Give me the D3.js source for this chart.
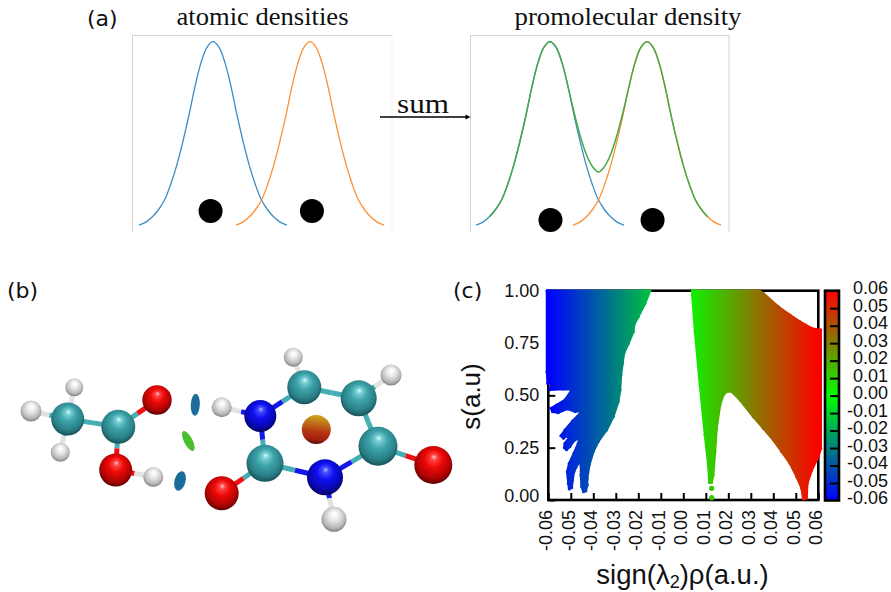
<!DOCTYPE html>
<html>
<head>
<meta charset="utf-8">
<script src="https://cdn.jsdelivr.net/npm/d3@7"></script>
<style>
  body { margin: 0; background: #fff; }
  svg { display: block; }
</style>
</head>
<body>
<div id="chart"></div>
<script>
// panel (a): one atom's density against distance from the nucleus
const radius = [-3.05, -2.75, -2.5, -2.25, -2, -1.75, -1.5, -1.25, -1, -0.75, -0.5, -0.25, 0,
  0.25, 0.5, 0.75, 1, 1.25, 1.5, 1.75, 2, 2.25, 2.5, 2.75, 3.05];
const density = [0.016, 0.033, 0.06, 0.098, 0.15, 0.232, 0.335, 0.46, 0.6, 0.755, 0.885, 0.97, 1,
  0.97, 0.885, 0.755, 0.6, 0.46, 0.335, 0.232, 0.15, 0.098, 0.06, 0.033, 0.016];
const atomSeparation = 4;
const nucleiLeft = [[-0.10, 0.091], [4.08, 0.091]];
const nucleiRight = [[0.02, 0.043], [4.23, 0.043]];

// panel (b): projected atom positions, element and size
const atomKind = ["H", "H", "C", "H", "C", "O", "O", "H", "H", "C", "C", "H", "N", "H", "C", "O", "C", "N", "O", "H"];
const atomX = [6.43, 2.10, 5.77, 5.03, 10.83, 14.70, 10.57, 14.33, 28.33, 29.43, 34.87, 38.10, 25.03, 21.17, 36.80, 42.33, 25.50, 31.50, 21.17, 32.40];
const atomY = [4.73, 7.10, 7.90, 11.23, 8.67, 6.00, 13.00, 13.70, 1.73, 4.73, 5.83, 3.50, 7.60, 6.73, 10.63, 12.50, 12.33, 13.73, 15.33, 17.93];
const atomSize = [0.9, 1.05, 1.65, 0.95, 1.7, 1.47, 1.65, 1.0, 0.95, 1.7, 1.8, 1.05, 1.6, 1.0, 1.95, 1.9, 1.85, 1.8, 1.7, 1.25];
const bonds = [[0, 2], [1, 2], [3, 2], [2, 4], [4, 5], [4, 6], [6, 7], [8, 9], [9, 10], [10, 11], [9, 12], [12, 13],
  [10, 14], [14, 15], [14, 17], [12, 16], [16, 17], [16, 18], [17, 19]];
const surfaces = [
  { fill: "#1b6c98", x: 18.53, y: 6.47, rx: 0.45, ry: 1.1, rot: 3 },
  { fill: "#48bf2c", x: 17.83, y: 10.1, rx: 0.42, ry: 1.1, rot: -28 },
  { fill: "#1b6c98", x: 17.0, y: 14.1, rx: 0.55, ry: 1.0, rot: 15 },
  { fill: "url(#blob)", x: 30.63, y: 8.95, rx: 1.45, ry: 1.45, rot: 0 }
];

// panel (c): outlines of the two point clouds, [sign(l2)rho, s]
const cloudNegative = [[-0.0606, 1], [-0.0148, 1], [-0.0170, 0.939], [-0.0200, 0.876], [-0.0219, 0.836], [-0.0222, 0.804],
  [-0.0244, 0.748], [-0.0264, 0.701], [-0.0270, 0.653], [-0.0277, 0.597], [-0.0281, 0.525], [-0.0289, 0.470],
  [-0.0311, 0.398], [-0.0341, 0.334], [-0.0378, 0.279], [-0.0400, 0.231], [-0.0418, 0.167], [-0.0427, 0.104],
  [-0.0427, 0.072], [-0.0433, 0.043], [-0.0444, 0.040], [-0.0452, 0.064], [-0.0455, 0.119], [-0.0455, 0.167],
  [-0.0447, 0.215], [-0.0467, 0.175], [-0.0486, 0.135], [-0.0492, 0.096], [-0.0496, 0.059], [-0.0507, 0.053],
  [-0.0511, 0.080], [-0.0516, 0.135], [-0.0507, 0.175], [-0.0486, 0.223], [-0.0467, 0.271], [-0.0462, 0.299],
  [-0.0486, 0.283], [-0.0504, 0.255], [-0.0519, 0.240], [-0.0529, 0.250], [-0.0526, 0.271], [-0.0507, 0.298],
  [-0.0519, 0.306], [-0.0533, 0.295], [-0.0544, 0.307], [-0.0526, 0.334], [-0.0492, 0.377], [-0.0449, 0.425],
  [-0.0481, 0.422], [-0.0516, 0.435], [-0.0556, 0.417], [-0.0581, 0.422], [-0.0588, 0.438], [-0.0563, 0.454],
  [-0.0526, 0.478], [-0.0493, 0.529], [-0.0533, 0.530], [-0.0593, 0.527], [-0.0585, 0.557], [-0.0603, 0.557], [-0.0606, 0.613]];
const cloudPositive = [[0.0040, 1], [0.0338, 1], [0.0356, 0.987], [0.0422, 0.924], [0.0474, 0.884], [0.0519, 0.852],
  [0.0571, 0.820], [0.0608, 0.812], [0.0611, 0.812], [0.0611, 0.247], [0.0600, 0.207], [0.0571, 0.143], [0.0551, 0.080],
  [0.0548, 0.008], [0.0533, 0.005], [0.0526, 0.056], [0.0504, 0.111], [0.0474, 0.175], [0.0437, 0.231], [0.0400, 0.287],
  [0.0356, 0.342], [0.0311, 0.398], [0.0252, 0.478], [0.0215, 0.518], [0.0193, 0.518], [0.0178, 0.502], [0.0163, 0.454],
  [0.0148, 0.342], [0.0141, 0.231], [0.0133, 0.119], [0.0126, 0.084], [0.0116, 0.084], [0.0111, 0.167], [0.0096, 0.311],
  [0.0074, 0.549], [0.0052, 0.804], [0.0040, 0.979]];
const strayPoints = [[0.0126, 0.056], [0.0126, 0.011]];
const xTicks = [-0.06, -0.05, -0.04, -0.03, -0.02, -0.01, 0, 0.01, 0.02, 0.03, 0.04, 0.05, 0.06];
const yTicks = [0, 0.25, 0.5, 0.75, 1];

const sansLabel = "'DejaVu Sans'";
const gnuplotFont = "'Liberation Sans'";
const serifFont = "'Liberation Serif'";
// gnuplot prints a plain hyphen, d3 a real minus
const tickLabel = d => d3.format(".2f")(d).replace("\u2212", "-");

const svg = d3.select("#chart").append("svg").attr("width", 891).attr("height", 592);
const defs = svg.append("defs");

function addText(x, y, str, font, size, length) {
  const t = svg.append("text").attr("x", x).attr("y", y)
    .attr("font-family", font).attr("font-size", size).attr("fill", "#111").text(str);
  if (length) t.attr("textLength", length).attr("lengthAdjust", "spacingAndGlyphs");
  return t;
}

// ---------- panel (a) ----------
addText(87, 26, "(a)", sansLabel, 22);
addText(176.5, 24.5, "atomic densities", serifFont, 25, 172);
addText(514.5, 24.5, "promolecular density", serifFont, 25, 227);
addText(397, 112.5, "sum", serifFont, 28, 52);

const yDensity = d3.scaleLinear().domain([0, 1]).range([228, 41.7]);
const line = d3.line().curve(d3.curveCatmullRom);

function box(left, right, edge) {
  svg.append("path").attr("fill", "none").attr("stroke", "#d2d2d2").attr("stroke-width", 1)
    .attr("d", `M${left + 0.5},232.5V35.5H${right}`);
  svg.append("line").attr("x1", right).attr("x2", right).attr("y1", 35).attr("y2", 232)
    .attr("stroke", edge).attr("stroke-width", 1);
}
box(132, 392, "#f1f1f1");
box(470, 729, "#d2d2d2");

function drawAtoms(x, nuclei) {
  line.x(d => x(d[0])).y(d => yDensity(d[1]));
  const first = radius.map((r, i) => [r, density[i]]);
  const second = radius.map((r, i) => [r + atomSeparation, density[i]]);
  svg.append("path").attr("d", line(first)).attr("fill", "none").attr("stroke", "#3c8bc2").attr("stroke-width", 1.3);
  svg.append("path").attr("d", line(second)).attr("fill", "none").attr("stroke", "#fb9033").attr("stroke-width", 1.3);
  svg.selectAll(null).data(nuclei).enter().append("circle")
    .attr("cx", d => x(d[0])).attr("cy", d => yDensity(d[1])).attr("r", 12).attr("fill", "#000");
}

const xLeftPanel = d3.scaleLinear().domain([-3, 7]).range([140.25, 382.75]);
const xRightPanel = d3.scaleLinear().domain([-3, 7]).range([477.25, 719.75]);
drawAtoms(xLeftPanel, nucleiLeft);
drawAtoms(xRightPanel, nucleiRight);

// the promolecular curve is the two atoms added up on the shared grid
const promolecular = [];
const shift = 16;
for (let i = 2; i <= 38; i++) {
  const a = i <= 24 ? density[i] : 0;
  const b = i >= shift ? density[i - shift] : 0;
  promolecular.push([-3 + i * 0.25, a + b]);
}
line.x(d => xRightPanel(d[0])).y(d => yDensity(d[1]));
svg.append("path").attr("d", line(promolecular)).attr("fill", "none").attr("stroke", "#47a947").attr("stroke-width", 1.5);

// sum arrow
svg.append("line").attr("x1", 380).attr("x2", 467).attr("y1", 117).attr("y2", 117)
  .attr("stroke", "#000").attr("stroke-width", 1.4);
svg.append("path").attr("d", "M470.5,117l-5,-2.6v5.2z").attr("fill", "#000");

// ---------- panel (b) ----------
addText(7, 298, "(b)", sansLabel, 22);

const molX = d3.scaleLinear().domain([0, 46]).range([10, 470]);
const molY = d3.scaleLinear().domain([0, 20]).range([340, 540]);
const molSize = d3.scaleLinear().domain([0, 1]).range([0, 10]);

const elements = {
  H: { bond: "#e2e2e2", stops: ["#ffffff", "#fafafa", "#e4e4e4", "#b8b8b8", "#6a6a6a"] },
  C: { bond: "#45adb4", stops: ["#d6fbfb", "#74cdd2", "#3da3aa", "#2a7f86", "#123f46"] },
  O: { bond: "#f01010", stops: ["#ffc4c4", "#ff4040", "#ee0808", "#b00404", "#420000"] },
  N: { bond: "#1418ec", stops: ["#b0b6ff", "#4448ff", "#0e10f0", "#0808b0", "#020244"] }
};
Object.keys(elements).forEach(k => {
  const g = defs.append("radialGradient").attr("id", "atom" + k)
    .attr("cx", 0.5).attr("cy", 0.44).attr("r", 0.62).attr("fx", 0.52).attr("fy", 0.28);
  [0, 0.14, 0.38, 0.72, 1].forEach((o, i) => {
    g.append("stop").attr("offset", o).attr("stop-color", elements[k].stops[i]);
  });
});
const blob = defs.append("linearGradient").attr("id", "blob")
  .attr("x1", 0.55).attr("x2", 0.45).attr("y1", 0).attr("y2", 1);
[[0, "#cda81e"], [0.28, "#c0721a"], [0.58, "#b63410"], [0.85, "#a01e0c"], [1, "#4a0e06"]].forEach(s => {
  blob.append("stop").attr("offset", s[0]).attr("stop-color", s[1]);
});

svg.append("g").selectAll("ellipse").data(surfaces).enter().append("ellipse")
  .attr("rx", d => molSize(d.rx)).attr("ry", d => molSize(d.ry))
  .attr("transform", d => `translate(${molX(d.x)},${molY(d.y)})rotate(${d.rot})`)
  .attr("fill", d => d.fill);

// each bond is two half sticks in the colours of its atoms
const gBonds = svg.append("g");
bonds.forEach(b => {
  const [i, j] = b;
  const mx = (atomX[i] + atomX[j]) / 2, my = (atomY[i] + atomY[j]) / 2;
  [[i, atomX[i], atomY[i]], [j, atomX[j], atomY[j]]].forEach(e => {
    gBonds.append("line")
      .attr("x1", molX(e[1])).attr("y1", molY(e[2]))
      .attr("x2", molX(mx)).attr("y2", molY(my))
      .attr("stroke", elements[atomKind[e[0]]].bond).attr("stroke-width", 5);
  });
});

svg.append("g").selectAll("circle").data(atomKind).enter().append("circle")
  .attr("cx", (d, i) => molX(atomX[i])).attr("cy", (d, i) => molY(atomY[i]))
  .attr("r", (d, i) => molSize(atomSize[i]))
  .attr("fill", d => `url(#atom${d})`);

// ---------- panel (c) ----------
addText(453, 297.5, "(c)", sansLabel, 22);

const x = d3.scaleLinear().domain([-0.06, 0.06]).range([548.3, 818.3]);
const y = d3.scaleLinear().domain([0, 1]).range([500, 290.7]);
const color = d3.scaleLinear().domain([-0.06, 0, 0.06]).range(["#0000ff", "#00ff00", "#ff0000"]);
const barY = d3.scaleLinear().domain([-0.06, 0.06]).range([500.5, 290.7]);

const axisX = svg.append("g").attr("transform", `translate(0,${y(0)})`)
  .call(d3.axisBottom(x).tickValues(xTicks).tickFormat(tickLabel).tickSizeInner(-7).tickSizeOuter(0));
const axisY = svg.append("g").attr("transform", `translate(${x(-0.06)},0)`)
  .call(d3.axisLeft(y).tickValues(yTicks).tickFormat(tickLabel).tickSizeInner(-7).tickSizeOuter(0));
[axisX, axisY].forEach(a => {
  a.select(".domain").remove();
  a.selectAll("line").attr("stroke", "#000").attr("stroke-width", 2);
  a.selectAll("text").attr("font-family", gnuplotFont).attr("font-size", 18).attr("fill", "#111");
});
axisX.selectAll("text")
  .attr("text-anchor", "end").attr("x", 0).attr("y", 0).attr("dy", 0)
  .attr("transform", "translate(3.5,10)rotate(-90)");
axisY.selectAll("text").attr("x", -9).attr("dy", "0.3em");
axisY.selectAll(".tick").filter(d => d === 0).select("text").attr("dy", "0.1em");

svg.append("rect").attr("x", x(-0.06)).attr("y", y(1)).attr("width", x(0.06) - x(-0.06)).attr("height", y(0) - y(1))
  .attr("fill", "none").attr("stroke", "#000").attr("stroke-width", 2.6);

const cloudGradient = defs.append("linearGradient").attr("id", "cloud")
  .attr("gradientUnits", "userSpaceOnUse")
  .attr("x1", x(-0.06)).attr("x2", x(0.06)).attr("y1", 0).attr("y2", 0);
[-0.06, -0.03, 0, 0.03, 0.06].forEach(v => {
  cloudGradient.append("stop").attr("offset", (v + 0.06) / 0.12).attr("stop-color", color(v));
});

const outline = d3.line().x(d => x(d[0])).y(d => y(d[1])).curve(d3.curveLinearClosed);
svg.selectAll(null).data([cloudNegative, cloudPositive]).enter().append("path")
  .attr("d", outline)
  .attr("fill", "url(#cloud)").attr("stroke", "url(#cloud)")
  .attr("stroke-width", 2.4).attr("stroke-linejoin", "round");
svg.selectAll(null).data(cloudNegative.concat(cloudPositive)).enter().append("circle")
  .attr("cx", d => x(d[0])).attr("cy", d => y(d[1])).attr("r", 1.5)
  .attr("fill", d => color(d[0]));
svg.selectAll(null).data(strayPoints).enter().append("circle")
  .attr("cx", d => x(d[0])).attr("cy", d => y(d[1])).attr("r", 2.6)
  .attr("fill", d => color(d[0]));

// colour box
const barGradient = defs.append("linearGradient").attr("id", "bar")
  .attr("x1", 0).attr("x2", 0).attr("y1", 1).attr("y2", 0);
[-0.06, -0.03, 0, 0.03, 0.06].forEach(v => {
  barGradient.append("stop").attr("offset", (v + 0.06) / 0.12).attr("stop-color", color(v));
});
svg.append("rect").attr("x", 825).attr("y", barY(0.06)).attr("width", 14).attr("height", barY(-0.06) - barY(0.06))
  .attr("fill", "url(#bar)").attr("stroke", "#000").attr("stroke-width", 2.6);
const axisBar = svg.append("g").attr("transform", "translate(839,0)")
  .call(d3.axisRight(barY).tickValues(xTicks).tickFormat(tickLabel).tickSizeInner(-9).tickSizeOuter(0));
axisBar.select(".domain").remove();
axisBar.selectAll("line").attr("stroke", "#000").attr("stroke-width", 2);
axisBar.selectAll(".tick").filter(d => d === 0.06 || d === -0.06).select("line").remove();
axisBar.selectAll("text")
  .attr("font-family", gnuplotFont).attr("font-size", 18).attr("fill", "#111")
  .attr("text-anchor", "end").attr("x", 49).attr("dy", "0.17em");

// axis titles
addText(0, 0, "s(a.u)", gnuplotFont, 26)
  .attr("text-anchor", "middle")
  .attr("transform", "translate(480,396.5)rotate(-90)");
const xTitle = addText(682.5, 584, "sign(", gnuplotFont, 27.5).attr("text-anchor", "middle");
xTitle.append("tspan").text("λ");
xTitle.append("tspan").attr("font-size", 18).attr("dy", 4).text("2");
xTitle.append("tspan").attr("dy", -4).text(")ρ(a.u.)");
</script>
</body>
</html>
